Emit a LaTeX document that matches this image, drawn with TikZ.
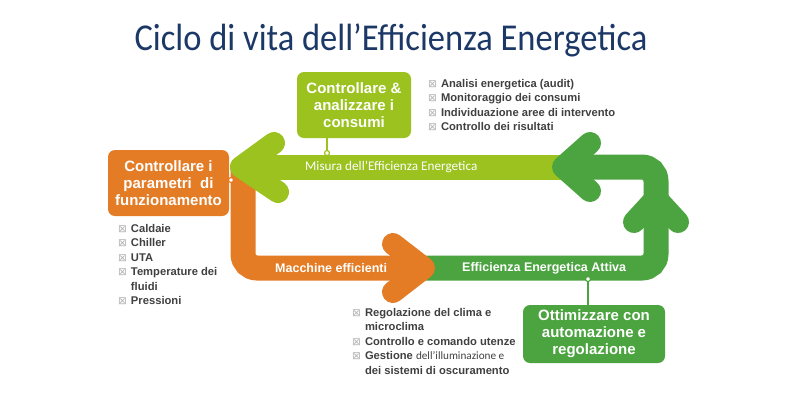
\documentclass[tikz,border=0pt]{standalone}
\usepackage{fontspec}
\setmainfont{Liberation Sans}
\newfontfamily\calib{Carlito}
\newfontfamily\symfont{DejaVu Sans}
\usetikzlibrary{positioning}
\definecolor{lime}{RGB}{155,194,30}
\definecolor{dgreen}{RGB}{76,164,64}
\definecolor{orng}{RGB}{228,124,38}
\definecolor{ttl}{RGB}{28,56,102}
\definecolor{txt}{RGB}{64,64,64}
\newcommand{\bx}{{\symfont\mdseries\fontsize{10.5}{10}\selectfont\color{gray!60}⊠}\hspace{4pt}}
\newcommand{\bxind}{\phantom{\bx}}

\begin{document}
\begin{tikzpicture}[x=1pt, y=-1pt,
    band/.style={line width=25pt},
    head/.style={line width=22pt, line cap=round, line join=round},
    pbox/.style={rounded corners=7pt, text=white, align=center, inner sep=0pt,
                 font=\bfseries\fontsize{15}{17}\selectfont},
    blist/.style={anchor=north west, align=left, text=txt, inner sep=0pt,
                  font=\bfseries\fontsize{11.2}{14.5}\selectfont},
    blabel/.style={text=white, inner sep=0pt, font=\bfseries\fontsize{12.5}{14}\selectfont},
    dot/.style={circle, draw, fill=white, line width=1.2pt, inner sep=0pt, minimum size=5pt},
]
\useasboundingbox[fill=white] (0,0) rectangle (800,400);

% Title
\node[text=ttl, font=\calib\fontsize{34.5}{34}\selectfont, yscale=1.1] (title) at (391,40) {Ciclo di vita dell’Efficienza Energetica};

% Bands and arrow heads
\draw[band, dgreen, rounded corners=14pt] (415,268) -- (656,268) -- (656,200);
\draw[band, orng, line cap=round, rounded corners=14pt] (243,168) -- (243,268) -- (410,268);
\draw[head, orng] (393,244) -- (424,268) -- (393,292);
\draw[band, lime] (250,167) -- (565,167);
\draw[head, lime] (274,143) -- (241,167) -- (278,192);
\draw[band, dgreen, rounded corners=14pt] (565,167) -- (656,167) -- (656,215);
\draw[head, dgreen] (590,143) -- (563,167) -- (590,191);
\draw[head, dgreen] (634,222) -- (656,198) -- (678,222);

% Band labels
\node[text=white, inner sep=0pt, anchor=west, font=\calib\fontsize{13.2}{15}\selectfont] (misura) at (305,167) {Misura dell’Efficienza Energetica};
\node[blabel, anchor=west] (macch) at (275,268) {Macchine efficienti};
\node[blabel, anchor=west] (attiva) at (462,268) {Efficienza Energetica Attiva};

% Boxes
\node[pbox, fill=orng, minimum width=121pt, minimum height=66pt] (pbox) at (168.5,183) {Controllare i\\parametri\ \ di\\funzionamento};
\node[pbox, fill=lime, minimum width=114pt, minimum height=66pt] (cbox) at (354,105) {Controllare \&\\analizzare i\\consumi};
\node[pbox, fill=dgreen, minimum width=142pt, minimum height=58pt] (obox) at (594,334) {Ottimizzare con\\automazione e\\regolazione};

% Connectors
\node[dot, draw=lime] (mdot) at (327,153) {};
\draw[lime, line width=1.8pt] (cbox.south -| mdot) -- (mdot);
\node[dot, draw=dgreen] (adot) at (588,279) {};
\draw[dgreen, line width=1.8pt] (obox.north -| adot) -- (adot);
\node[dot, draw=orng] (pdot) at (231,180) {};

% Lists
\node[blist] (lconsumi) at (428,79) {\bx Analisi energetica (audit)\\\bx Monitoraggio dei consumi\\\bx Individuazione aree di intervento\\\bx Controllo dei risultati};
\node[blist] (lparam) at (118,224) {\bx Caldaie\\\bx Chiller\\\bx UTA\\\bx Temperature dei\\\bxind fluidi\\\bx Pressioni};
\node[blist] (lauto) at (352,308) {\bx Regolazione del clima e\\\bxind microclima\\\bx Controllo e comando utenze\\\bx Gestione {\calib\mdseries\fontsize{11.2}{14.5}\selectfont dell’illuminazione e}\\\bxind dei sistemi di oscuramento};
\end{tikzpicture}
\end{document}
